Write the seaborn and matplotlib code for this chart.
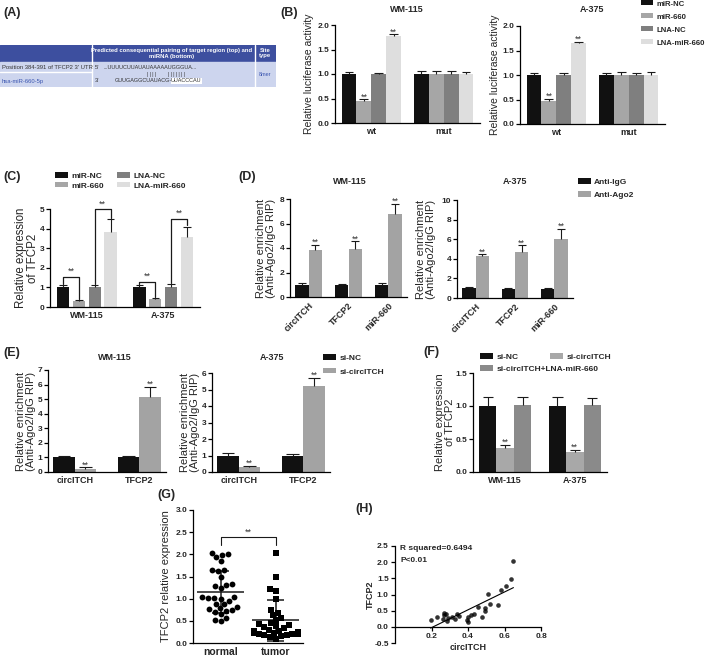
import numpy as np
import pandas as pd
import matplotlib
matplotlib.use("Agg")
import matplotlib.pyplot as plt
import seaborn as sns
from matplotlib.patches import Patch, Rectangle

# ---- data ----
b_groups = ["miR-NC", "miR-660", "LNA-NC", "LNA-miR-660"]
b_cats = ["wt", "mut"]
b_colors = ["#111111", "#a6a6a6", "#7f7f7f", "#dedede"]
b_wm_vals = [[1.0, 1.0], [0.45, 1.0], [1.0, 1.0], [1.78, 1.0]]
b_wm_err = [[0.04, 0.07], [0.03, 0.06], [0.03, 0.06], [0.03, 0.05]]
b_a3_vals = [[1.0, 1.0], [0.47, 1.0], [1.0, 1.0], [1.65, 1.0]]
b_a3_err = [[0.04, 0.05], [0.04, 0.06], [0.05, 0.05], [0.03, 0.07]]
b_stars = [[0, 0], [1, 0], [0, 0], [1, 0]]

c_cats = ["WM-115", "A-375"]
c_vals = [[1.0, 1.0], [0.32, 0.40], [1.0, 1.0], [3.85, 3.55]]
c_err = [[0.10, 0.12], [0.05, 0.05], [0.10, 0.15], [0.65, 0.55]]

d_groups = ["Anti-IgG", "Anti-Ago2"]
d_cats = ["circITCH", "TFCP2", "miR-660"]
d_colors = ["#111111", "#a3a3a3"]
d_wm_vals = [[1.0, 1.0, 1.0], [3.8, 3.9, 6.75]]
d_wm_err = [[0.12, 0.1, 0.14], [0.45, 0.65, 0.85]]
d_a3_vals = [[1.0, 0.95, 0.95], [4.27, 4.74, 6.07]]
d_a3_err = [[0.12, 0.05, 0.06], [0.2, 0.62, 1.0]]
d_stars = [[0, 0, 0], [1, 1, 1]]

e_groups = ["si-NC", "si-circITCH"]
e_cats = ["circITCH", "TFCP2"]
e_colors = ["#111111", "#a3a3a3"]
e_wm_vals = [[1.0, 1.0], [0.23, 5.18]]
e_wm_err = [[0.08, 0.12], [0.1, 0.68]]
e_a3_vals = [[1.0, 0.96], [0.28, 5.19]]
e_a3_err = [[0.15, 0.12], [0.1, 0.52]]
e_stars = [[0, 0], [1, 1]]

f_groups = ["si-NC", "si-circITCH", "si-circITCH+LNA-miR-660"]
f_cats = ["WM-115", "A-375"]
f_colors = ["#111111", "#a8a8a8", "#8a8a8a"]
f_vals = [[1.0, 1.0], [0.36, 0.30], [1.01, 1.02]]
f_err = [[0.13, 0.14], [0.05, 0.04], [0.12, 0.1]]
f_stars = [[0, 0], [1, 1], [0, 0]]

g_normal = [2.03, 2.0, 1.98, 1.94, 1.85, 1.64, 1.64, 1.62, 1.5, 1.32, 1.3, 1.28,
            1.23, 1.04, 1.03, 1.02, 1.02, 1.0, 0.95, 0.89, 0.87, 0.82, 0.78, 0.76,
            0.74, 0.72, 0.7, 0.65, 0.57, 0.53, 0.5]
g_tumor = [2.03, 1.48, 1.22, 1.17, 1.0, 0.75, 0.68, 0.63, 0.57, 0.52, 0.45, 0.42,
           0.4, 0.38, 0.35, 0.33, 0.3, 0.28, 0.26, 0.25, 0.23, 0.22, 0.21, 0.2,
           0.2, 0.18, 0.17, 0.15, 0.13, 0.1]

h_circ = [0.649, 0.635, 0.607, 0.582, 0.507, 0.564, 0.522, 0.453, 0.491, 0.495,
          0.478, 0.431, 0.418, 0.398, 0.396, 0.398, 0.338, 0.353, 0.331, 0.313,
          0.289, 0.271, 0.282, 0.267, 0.231, 0.195, 0.285, 0.264]
h_tfcp2 = [2.04, 1.47, 1.26, 1.15, 1.01, 0.67, 0.70, 0.61, 0.57, 0.48,
           0.31, 0.41, 0.36, 0.29, 0.21, 0.15, 0.41, 0.34, 0.24, 0.31,
           0.28, 0.36, 0.41, 0.44, 0.29, 0.21, 0.19, 0.24]

# ---- setup ----
sns.set_theme(style="ticks")
plt.rcParams["font.family"] = ["Liberation Sans", "DejaVu Sans"]
W, H = 709, 656
fig = plt.figure(figsize=(W / 100, H / 100), dpi=100)


def add_ax(x0, y0, x1, y1):
    return fig.add_axes([x0 / W, 1 - y1 / H, (x1 - x0) / W, (y1 - y0) / H])


def ftext(x, y, s, **kw):
    fig.text(x / W, 1 - y / H, s, **kw)


def style(ax, ylim, yticks, fmt="{:g}"):
    ax.set_ylim(*ylim)
    ax.set_yticks(yticks)
    ax.set_yticklabels([fmt.format(t) for t in yticks], fontweight="bold")
    ax.set_xlabel("")
    ax.set_ylabel("")
    sns.despine(ax=ax)
    for s in ["left", "bottom"]:
        ax.spines[s].set_linewidth(0.9)
        ax.spines[s].set_color("black")
    ax.tick_params(axis="y", length=3, width=0.9, labelsize=6, pad=1.2, color="black")
    ax.tick_params(axis="x", length=0, labelsize=6.5, pad=3)
    for lab in ax.get_xticklabels():
        lab.set_fontweight("bold")


def ylab(ax, text, x_right, fs=8):
    ax.set_ylabel(text, fontsize=fs, linespacing=1.05)
    pos = ax.get_position()
    ax.yaxis.set_label_coords((x_right / W - pos.x0) / pos.width, 0.5)


def bars(ax, cats, groups, vals, errs, colors, width, gap=0, stars=None):
    rows = [(c, g, v) for g, gv in zip(groups, vals) for c, v in zip(cats, gv)]
    df = pd.DataFrame(rows, columns=["cat", "grp", "val"])
    sns.barplot(data=df, x="cat", y="val", hue="grp", order=cats, hue_order=groups,
                palette=colors, width=width, gap=gap, saturation=1, errorbar=None,
                legend=False, linewidth=0, ax=ax)
    tops = []
    for gi, cont in enumerate(ax.containers):
        row = []
        blist = sorted(cont, key=lambda b: b.get_x())
        for ci, bar in enumerate(blist):
            x = bar.get_x() + bar.get_width() / 2
            h = bar.get_height()
            e = errs[gi][ci]
            hw = bar.get_width() * 0.3
            ax.vlines(x, h, h + e, color="k", lw=0.8)
            ax.hlines(h + e, x - hw, x + hw, color="k", lw=0.8)
            if stars is not None and stars[gi][ci]:
                ax.annotate("**", (x, h + e), xytext=(0, -1.5), textcoords="offset points",
                            ha="center", va="bottom", fontsize=6.5, color="#333333",
                            annotation_clip=False)
            row.append((x, h + e))
        tops.append(row)
    return tops


def leg(label, color, x, y, fs=6):
    fig.legend(handles=[Patch(facecolor=color, edgecolor="none", label=label)],
               loc="center left", bbox_to_anchor=(x / W, 1 - y / H), frameon=False,
               borderpad=0, borderaxespad=0, handlelength=1.6, handleheight=0.6,
               handletextpad=0.35, prop={"size": fs, "weight": "bold"})


def panel(x, y, s):
    ftext(x, y, s, fontsize=9, fontweight="bold", ha="left", va="center")


# ---- (A) table ----
panel(3, 13, "(A)")
axa = add_ax(0, 45, 276, 87)
axa.set_xlim(0, 276)
axa.set_ylim(87, 45)
axa.axis("off")
dark, light = "#3d4f9f", "#cdd5ee"
axa.add_patch(Rectangle((0, 45), 276, 17, color=dark))
axa.add_patch(Rectangle((0, 62), 276, 25, color=light))
for xv in [92, 255]:
    axa.plot([xv, xv], [45, 87], color="white", lw=1)
axa.plot([0, 92], [72, 72], color="white", lw=1)
axa.text(172, 53.5, "Predicted consequential pairing of target region (top) and\nmiRNA (bottom)",
         ha="center", va="center", fontsize=4.2, color="white", fontweight="bold",
         linespacing=1.1)
axa.text(265, 53.5, "Site\ntype", ha="center", va="center", fontsize=4.2,
         color="white", fontweight="bold", linespacing=1.0)
axa.text(2, 67.5, "Position 384-391 of TFCP2 3' UTR", ha="left", va="center",
         fontsize=4.2, color="#333333")
axa.text(2, 81, "hsa-miR-660-5p", ha="left", va="center", fontsize=4.2, color="#3a55b0")
axa.text(95, 67.5, "5'", ha="left", va="center", fontsize=4.2, color="#333333")
axa.text(103, 67.5, "...UUUUCUUAUAUAAAAAUGGGUA...", ha="left", va="center",
         fontsize=4, color="#333333")
axa.text(147, 74.5, "| | | |", ha="left", va="center", fontsize=3.5, color="#333333")
axa.text(168, 74.5, "| | | | | | |", ha="left", va="center", fontsize=3.5, color="#333333")
axa.text(95, 81, "3'", ha="left", va="center", fontsize=4.2, color="#333333")
axa.text(115, 81, "GUUGAGGCUAUACG-", ha="left", va="center", fontsize=4, color="#333333")
axa.text(171, 81, "UUACCCAU", ha="left", va="center", fontsize=4, color="#333333",
         bbox=dict(facecolor="white", edgecolor="none", pad=0.3))
axa.text(265, 74.5, "8mer", ha="center", va="center", fontsize=4, color="#3a55b0")

# ---- (B) ----
panel(280, 13, "(B)")
ax = add_ax(335, 25, 480, 123)
bars(ax, b_cats, b_groups, b_wm_vals, b_wm_err, b_colors, 0.82, stars=b_stars)
style(ax, (0, 2.0), [0, 0.5, 1.0, 1.5, 2.0], "{:.1f}")
ylab(ax, "Relative luciferase activity", 314, 7.5)
ftext(407, 10, "WM-115", ha="center", va="center", fontsize=6.5, fontweight="bold")

ax = add_ax(520, 26, 665, 124)
bars(ax, b_cats, b_groups, b_a3_vals, b_a3_err, b_colors, 0.82, stars=b_stars)
style(ax, (0, 2.0), [0, 0.5, 1.0, 1.5, 2.0], "{:.1f}")
ylab(ax, "Relative luciferase activity", 500, 7.5)
ftext(592, 10, "A-375", ha="center", va="center", fontsize=6.5, fontweight="bold")
for lab, col, yy in zip(b_groups, b_colors, [4, 17, 30, 43]):
    leg(lab, col, 641, yy, fs=5.6)

# ---- (C) ----
panel(3, 177, "(C)")
ax = add_ax(50, 209, 200, 307)
tops = bars(ax, c_cats, b_groups, c_vals, c_err, b_colors, 0.83, gap=0.22)
style(ax, (0, 5), [0, 1, 2, 3, 4, 5])
ylab(ax, "Relative expression\nof TFCP2", 39, 8.3)
brackets = [(0, 1, 1.55), (2, 3, 5.0)]
bracket_a3 = [(0, 1, 1.3), (2, 3, 4.5)]
for ci, blist in enumerate([brackets, bracket_a3]):
    for g1, g2, top in blist:
        x1, t1 = tops[g1][ci]
        x2, t2 = tops[g2][ci]
        ax.plot([x1, x1, x2, x2], [t1 + 0.06, top, top, t2 + 0.06], color="k", lw=0.9,
                clip_on=False)
        ax.text((x1 + x2) / 2, top + 0.03, "**", ha="center", va="bottom", fontsize=6.5,
                color="#333333")
for lab, col, (xx, yy) in zip(b_groups, b_colors, [(55, 176), (55, 186), (117, 176), (117, 186)]):
    leg(lab, col, xx, yy)

# ---- (D) ----
panel(238, 177, "(D)")
ax = add_ax(290, 199, 407, 297)
bars(ax, d_cats, d_groups, d_wm_vals, d_wm_err, d_colors, 0.67, stars=d_stars)
style(ax, (0, 8), [0, 2, 4, 6, 8])
ylab(ax, "Relative enrichment\n(Anti-Ago2/IgG RIP)", 276, 8)
plt.setp(ax.get_xticklabels(), rotation=45, ha="right", rotation_mode="anchor")
ftext(350, 182, "WM-115", ha="center", va="center", fontsize=6.5, fontweight="bold")

ax = add_ax(457, 200, 573, 298)
bars(ax, d_cats, d_groups, d_a3_vals, d_a3_err, d_colors, 0.67, stars=d_stars)
style(ax, (0, 10), [0, 2, 4, 6, 8, 10])
ylab(ax, "Relative enrichment\n(Anti-Ago2/IgG RIP)", 436, 8)
plt.setp(ax.get_xticklabels(), rotation=45, ha="right", rotation_mode="anchor")
ftext(515, 182, "A-375", ha="center", va="center", fontsize=6.5, fontweight="bold")
for lab, col, yy in zip(d_groups, d_colors, [182, 195]):
    leg(lab, col, 578, yy)

# ---- (E) ----
panel(3, 353, "(E)")
ax = add_ax(48, 370, 166, 472)
bars(ax, e_cats, e_groups, e_wm_vals, e_wm_err, e_colors, 0.66, stars=e_stars)
style(ax, (0, 7), list(range(8)))
ylab(ax, "Relative enrichment\n(Anti-Ago2/IgG RIP)", 36, 8)
ftext(115, 358, "WM-115", ha="center", va="center", fontsize=6.5, fontweight="bold")

ax = add_ax(212, 373, 330, 472)
bars(ax, e_cats, e_groups, e_a3_vals, e_a3_err, e_colors, 0.66, stars=e_stars)
style(ax, (0, 6), list(range(7)))
ylab(ax, "Relative enrichment\n(Anti-Ago2/IgG RIP)", 200, 8)
ftext(272, 358, "A-375", ha="center", va="center", fontsize=6.5, fontweight="bold")
for lab, col, yy in zip(e_groups, e_colors, [358, 372]):
    leg(lab, col, 323, yy)

# ---- (F) ----
panel(423, 352, "(F)")
ax = add_ax(473, 373, 607, 472)
bars(ax, f_cats, f_groups, f_vals, f_err, f_colors, 0.75, stars=f_stars)
style(ax, (0, 1.5), [0, 0.5, 1.0, 1.5], "{:.1f}")
ylab(ax, "Relative expression\nof TFCP2", 455, 8)
for lab, col, (xx, yy) in zip(f_groups, f_colors, [(480, 357), (550, 357), (480, 369)]):
    leg(lab, col, xx, yy)

# ---- (G) ----
panel(157, 495, "(G)")
ax = add_ax(193, 510, 303, 643)
gdf = pd.DataFrame({"grp": ["normal"] * len(g_normal) + ["tumor"] * len(g_tumor),
                    "val": g_normal + g_tumor})
sns.swarmplot(data=gdf[gdf.grp == "normal"], x="grp", y="val", order=["normal", "tumor"],
              marker="o", size=4.2, color="black", ax=ax)
sns.swarmplot(data=gdf[gdf.grp == "tumor"], x="grp", y="val", order=["normal", "tumor"],
              marker="s", size=4.0, color="black", ax=ax)
for i, vals in enumerate([g_normal, g_tumor]):
    m, sd = np.mean(vals), np.std(vals, ddof=1)
    ax.hlines(m, i - 0.42, i + 0.42, color="k", lw=1.1)
    ax.vlines(i, max(m - sd, 0.02), m + sd, color="k", lw=1.1)
    ax.hlines([max(m - sd, 0.02), m + sd], i - 0.15, i + 0.15, color="k", lw=1.1)
ax.plot([0, 0, 1, 1], [2.2, 2.38, 2.38, 2.2], color="k", lw=0.8)
ax.text(0.5, 2.4, "**", ha="center", va="bottom", fontsize=6.5, color="#333333")
ax.set_xlim(-0.5, 1.5)
style(ax, (0, 3), [0, 0.5, 1.0, 1.5, 2.0, 2.5, 3.0], "{:.1f}")
ax.tick_params(axis="x", labelsize=7.5)
ylab(ax, "TFCP2 relative expression", 171, 8)

# ---- (H) ----
panel(355, 509, "(H)")
ax = add_ax(395, 546, 541, 643)
sns.regplot(x=np.array(h_circ), y=np.array(h_tfcp2), ci=None, truncate=True, ax=ax,
            scatter_kws={"s": 11, "color": "black", "linewidths": 0},
            line_kws={"lw": 0.8, "color": "black"})
ax.set_xlim(0, 0.8)
ax.set_ylim(-0.5, 2.5)
sns.despine(ax=ax)
ax.spines["bottom"].set_position(("data", 0))
for s in ["left", "bottom"]:
    ax.spines[s].set_linewidth(0.9)
    ax.spines[s].set_color("black")
ax.set_xticks([0.2, 0.4, 0.6, 0.8])
ax.set_xticklabels(["0.2", "0.4", "0.6", "0.8"], fontweight="bold")
yt = [-0.5, 0, 0.5, 1.0, 1.5, 2.0, 2.5]
ax.set_yticks(yt)
ax.set_yticklabels(["{:.1f}".format(t) for t in yt], fontweight="bold")
ax.tick_params(length=3, width=0.9, labelsize=6, pad=1.5, color="black")
ax.set_xlabel("circITCH", fontsize=6.5, fontweight="bold", labelpad=2)
ylab(ax, "TFCP2", 375, 6.5)
ax.yaxis.label.set_fontweight("bold")
ax.text(0.03, 2.42, "R squared=0.6494", fontsize=6, fontweight="bold", va="center")
ax.text(0.03, 2.05, "P<0.01", fontsize=6, fontweight="bold", va="center")

fig.savefig("out.png", dpi=100)
